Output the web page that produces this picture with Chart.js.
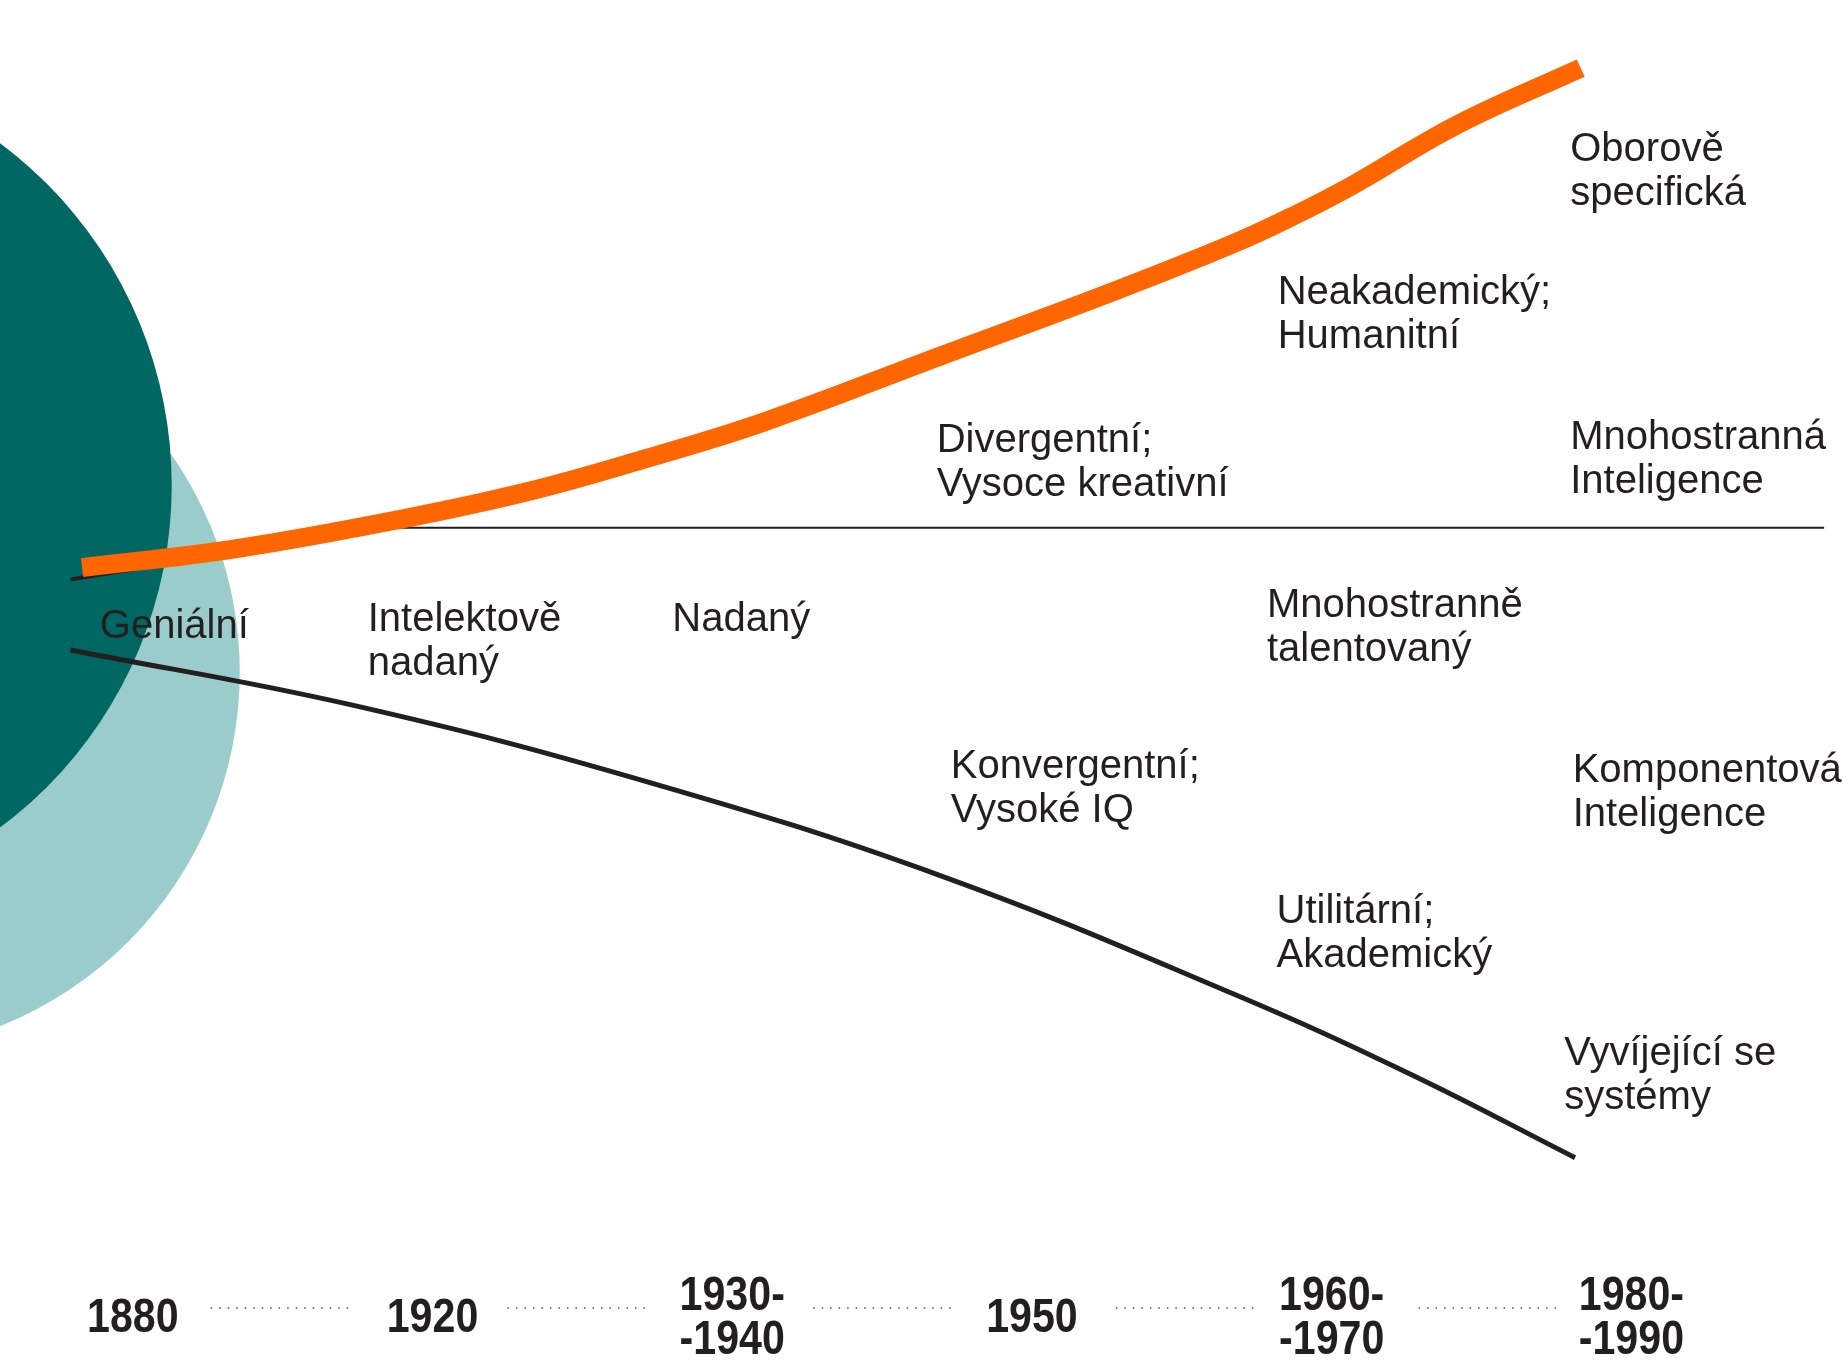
<!DOCTYPE html>
<html>
<head>
<meta charset="utf-8">
<script src="https://cdn.jsdelivr.net/npm/chart.js@4/dist/chart.umd.min.js"></script>
<style>
  html, body { margin: 0; padding: 0; background: #fff; }
  #wrap { width: 1843px; height: 1361px; position: relative; }
</style>
</head>
<body>
<div id="wrap"><canvas id="chart"></canvas></div>
<script>
// time periods along the bottom (one per x index 0..5)
const periods = [["1880"], ["1920"], ["1930-", "-1940"], ["1950"], ["1960-", "-1970"], ["1980-", "-1990"]];

// orange rising curve (x = period index, y = level above the middle line)
const orangeX = [-0.169, 0.341, 0.890, 1.322, 1.714, 2.106, 2.694, 3.282, 3.675, 3.870, 4.067, 4.420, 4.831];
const orangeY = [-0.34, -0.18, 0.07, 0.31, 0.59, 0.90, 1.46, 2.02, 2.42, 2.65, 2.91, 3.43, 3.91];

// black falling curve
const blackX = [-0.208, 0.733, 1.714, 2.694, 3.675, 4.263, 4.812];
const blackY = [-1.04, -1.51, -2.16, -2.96, -3.97, -4.65, -5.36];

// short black stroke under the orange start, then the flat middle line
const upperX = [-0.208, 0.851];
const upperY = [-0.44, 0];
const middleX = [0.851, 5.643];
const middleY = [0, 0];

// dotted connectors between the periods
const dotStart = [0.26, 1.25, 2.27, 3.28, 4.29];
const dotEnd = [0.73, 1.72, 2.75, 3.76, 4.77];
const dotLevel = -6.64;
const periodLevel = -6.73;

// text labels inside the diagram
const labelText = [
  ["Oborově", "specifická"],
  ["Neakademický;", "Humanitní"],
  ["Mnohostranná", "Inteligence"],
  ["Divergentní;", "Vysoce kreativní"],
  ["Geniální"],
  ["Intelektově", "nadaný"],
  ["Nadaný"],
  ["Mnohostranně", "talentovaný"],
  ["Konvergentní;", "Vysoké IQ"],
  ["Komponentová", "Inteligence"],
  ["Utilitární;", "Akademický"],
  ["Vyvíjející se", "systémy"]
];
const labelX = [4.796, 3.820, 4.796, 2.682, -0.110, 0.784, 1.800, 3.784, 2.729, 4.804, 3.816, 4.776];
const labelY = [3.12, 1.90, 0.67, 0.64, -0.94, -0.88, -0.88, -0.76, -2.13, -2.16, -3.36, -4.57];

// background discs (centre in data units, radius in x units)
const discX = [-0.914, -1.294];
const discY = [-1.23, 0.36];
const discR = [1.271, 1.424];
const discColor = ["#9bcccc", "#006763"];

const ink = "#231f20";
const zip = (xs, ys) => xs.map((x, i) => ({ x: x, y: ys[i] }));

const dotData = [];
dotStart.forEach((s, i) => {
  dotData.push({ x: s, y: dotLevel }, { x: dotEnd[i], y: dotLevel }, { x: dotEnd[i] + 0.01, y: null });
});

const discPlugin = {
  id: "discs",
  beforeDatasetsDraw(chart) {
    const ctx = chart.ctx, xs = chart.scales.x, ys = chart.scales.y;
    const unit = xs.getPixelForValue(1) - xs.getPixelForValue(0);
    ctx.save();
    discX.forEach((x, i) => {
      ctx.beginPath();
      ctx.arc(xs.getPixelForValue(x), ys.getPixelForValue(discY[i]), discR[i] * unit, 0, Math.PI * 2);
      ctx.fillStyle = discColor[i];
      ctx.fill();
    });
    ctx.restore();
  }
};

const textPlugin = {
  id: "texts",
  afterDatasetsDraw(chart) {
    const ctx = chart.ctx, xs = chart.scales.x, ys = chart.scales.y;
    ctx.save();
    ctx.fillStyle = ink;
    ctx.font = '40px "Liberation Sans", Arial, sans-serif';
    ctx.textAlign = "left";
    ctx.textBaseline = "alphabetic";
    labelText.forEach((lines, i) => {
      const px = xs.getPixelForValue(labelX[i]);
      const py = ys.getPixelForValue(labelY[i]);
      lines.forEach((t, k) => ctx.fillText(t, px, py + k * 44));
    });

    // narrow bold period labels: squeeze Liberation Sans Bold horizontally
    const squeeze = 0.84;
    ctx.font = 'bold 49px "Liberation Sans", Arial, sans-serif';
    ctx.textAlign = "center";
    ctx.textBaseline = "middle";
    periods.forEach((lines, i) => {
      const px = xs.getPixelForValue(i);
      const py = ys.getPixelForValue(periodLevel);
      const top = py - (lines.length - 1) * 22;
      lines.forEach((t, k) => {
        ctx.save();
        ctx.translate(px, top + k * 44);
        ctx.scale(squeeze, 1);
        ctx.fillText(t, 0, 0);
        ctx.restore();
      });
    });
    ctx.restore();
  }
};

new Chart(document.getElementById("chart"), {
  type: "line",
  data: {
    datasets: [
      {
        label: "orange",
        data: zip(orangeX, orangeY),
        borderColor: "#ff6600",
        borderWidth: 19,
        tension: 0.4,
        order: 0
      },
      {
        label: "upper",
        data: zip(upperX, upperY),
        borderColor: ink,
        borderWidth: 4,
        order: 2
      },
      {
        label: "middle",
        data: zip(middleX, middleY),
        borderColor: ink,
        borderWidth: 2,
        order: 2
      },
      {
        label: "black",
        data: zip(blackX, blackY),
        borderColor: ink,
        borderWidth: 5,
        tension: 0.4,
        order: 1
      },
      {
        label: "dots",
        data: dotData,
        borderColor: "#7a7a7a",
        borderWidth: 2,
        borderDash: [1.5, 7],
        spanGaps: false,
        order: 3
      }
    ]
  },
  options: {
    responsive: true,
    maintainAspectRatio: false,
    animation: false,
    layout: { padding: 0 },
    elements: { point: { radius: 0, hoverRadius: 0 } },
    plugins: { legend: { display: false }, tooltip: { enabled: false } },
    scales: {
      x: { type: "linear", min: -0.443, max: 5.706, display: false },
      y: { type: "linear", min: -7.09, max: 4.49, display: false }
    }
  },
  plugins: [discPlugin, textPlugin]
});
</script>
</body>
</html>
